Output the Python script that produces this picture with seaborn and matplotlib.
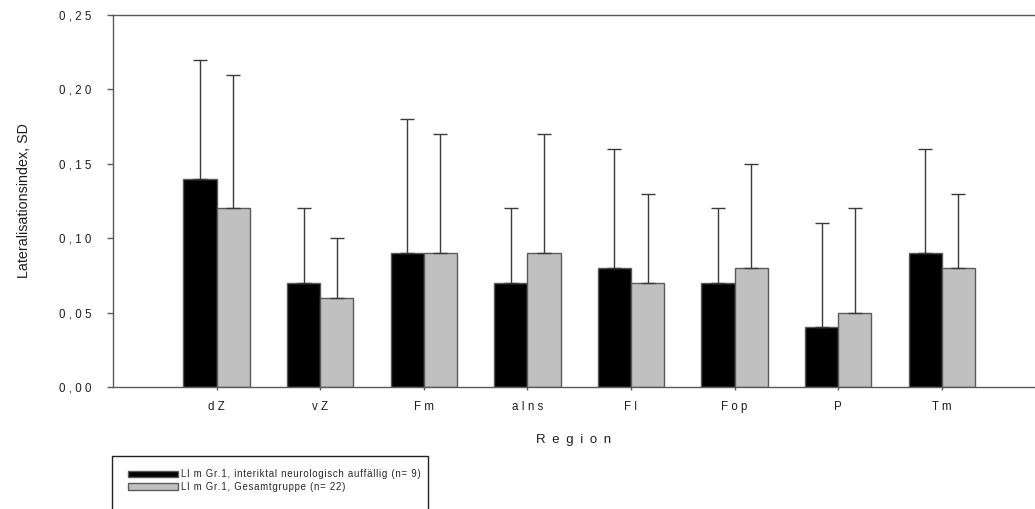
import matplotlib
matplotlib.use("Agg")
import matplotlib.pyplot as plt
import matplotlib.patches as mpatches
import numpy as np
import pandas as pd
import seaborn as sns

# Regions and lateralisation index (mean and SD) per group
regions = ["dZ", "vZ", "Fm", "aIns", "Fl", "Fop", "P", "Tm"]
groups = ["LI m Gr.1, interiktal neurologisch auffällig (n= 9)",
          "LI m Gr.1, Gesamtgruppe (n= 22)"]
mean_neuro = [0.14, 0.07, 0.09, 0.07, 0.08, 0.07, 0.04, 0.09]
sd_neuro = [0.08, 0.05, 0.09, 0.05, 0.08, 0.05, 0.07, 0.07]
mean_all = [0.12, 0.06, 0.09, 0.09, 0.07, 0.08, 0.05, 0.08]
sd_all = [0.09, 0.04, 0.08, 0.08, 0.06, 0.07, 0.07, 0.05]
y_ticks = [0.00, 0.05, 0.10, 0.15, 0.20, 0.25]

colors = ["#000000", "#c0c0c0"]
edge = "#5a5a5a"
text_color = "#1e1e1e"

EN_SPACE = "\u2002"
HAIR_SPACE = "\u200a"


def spaced(s, sep=" "):
    """Letter-spaced rendering of a label."""
    return sep.join(s)


df = pd.DataFrame({
    "region": regions * 2,
    "group": [groups[0]] * len(regions) + [groups[1]] * len(regions),
    "value": mean_neuro + mean_all,
})
sds = [sd_neuro, sd_all]

sns.set_style("white")
plt.rcParams["font.family"] = ["Liberation Sans", "DejaVu Sans"]

fig = plt.figure(figsize=(10.35, 5.09), dpi=100)
ax = fig.add_axes([113 / 1035, 1 - 387 / 509, (1034 - 113) / 1035, (387 - 15) / 509])

sns.barplot(data=df, x="region", y="value", hue="group", order=regions,
            hue_order=groups, palette=colors, width=0.64, errorbar=None,
            edgecolor=edge, linewidth=1.0, saturation=1, ax=ax, legend=False)

# Upper-only SD whiskers on each bar
for cont, sd in zip(ax.containers, sds):
    xs = [p.get_x() + p.get_width() / 2 for p in cont]
    hs = [p.get_height() for p in cont]
    ax.errorbar(xs, hs, yerr=[np.zeros(len(sd)), sd], fmt="none",
                ecolor="#3a3a3a", elinewidth=1.0, capsize=5.2, capthick=1.0,
                zorder=1)

ax.set_xlim(-1.0, 7.89)
ax.set_ylim(0, 0.25)
ax.set_yticks(y_ticks)
ax.set_yticklabels([spaced(f"{v:.2f}".replace(".", ",")) for v in y_ticks],
                   fontsize=8.3, color=text_color)
ax.set_xticks(range(len(regions)))
ax.set_xticklabels([spaced(r) for r in regions], fontsize=8.3, color=text_color)

ax.tick_params(axis="y", direction="out", length=4.3, width=1, color=edge,
               pad=11, left=True)
ax.tick_params(axis="x", direction="out", length=2.5, width=1, color=edge,
               pad=7.5, bottom=True)

for side in ["left", "top", "bottom"]:
    ax.spines[side].set_visible(True)
    ax.spines[side].set_color(edge)
    ax.spines[side].set_linewidth(1.0)
ax.spines["right"].set_visible(False)

ax.set_xlabel(spaced("Region", EN_SPACE), fontsize=9.5, color=text_color,
              labelpad=15)
ax.set_ylabel("Lateralisationsindex, SD", fontsize=10.3, color=text_color,
              labelpad=20)

# Legend below the plot
handles = [mpatches.Patch(facecolor=c, edgecolor=edge, linewidth=1.0)
           for c in colors]
fig.legend(handles, [spaced(g, HAIR_SPACE) for g in groups], loc="upper left",
           bbox_to_anchor=(128 / 1035, 1 - 469 / 509), frameon=False,
           fontsize=6.9, handlelength=5.2, handleheight=0.6,
           handletextpad=0.35, labelspacing=0.3, borderpad=0.0,
           borderaxespad=0.0)
fig.add_artist(mpatches.Rectangle((112 / 1035, -0.05), (428 - 112) / 1035,
                                  0.05 + 1 - 456 / 509, transform=fig.transFigure,
                                  fill=False, edgecolor="#222222", linewidth=1.0))

fig.savefig("out.png", dpi=100)
